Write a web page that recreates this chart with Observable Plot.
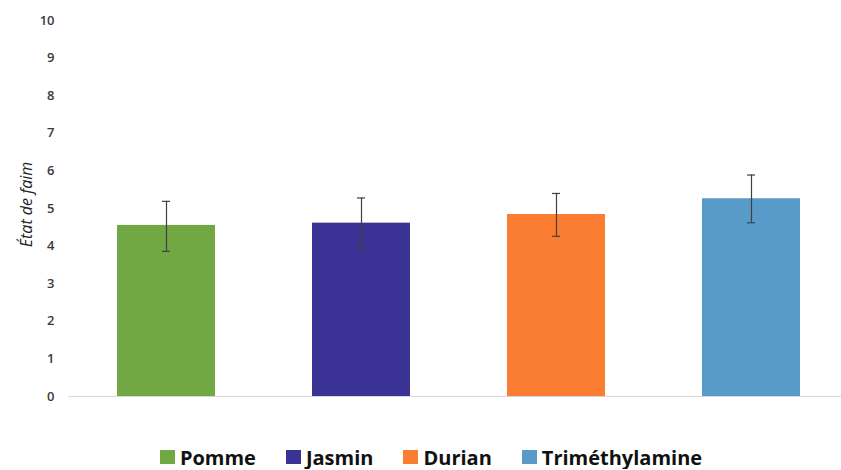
<!DOCTYPE html>
<html>
<head>
<meta charset="utf-8">
<script src="https://cdn.jsdelivr.net/npm/d3@7"></script>
<script src="https://cdn.jsdelivr.net/npm/@observablehq/plot@0.6"></script>
<style>
  html, body { margin: 0; padding: 0; background: #fff; }
  #chart { width: 841px; }
  .legend { display: flex; justify-content: center; align-items: center; padding-left: 21px; margin-top: 25px;
    font-family: "Open Sans", sans-serif; font-weight: 700; font-size: 20px; color: #111; height: 24px; }
  .legend .item { display: flex; align-items: center; margin-right: 30px; }
  .legend .item:last-child { margin-right: 0; }
  .legend .sw { width: 15px; height: 14px; margin-right: 5px; display: inline-block; }
</style>
</head>
<body>
<div id="chart"></div>
<script>
const categories = ["Pomme", "Jasmin", "Durian", "Triméthylamine"];
const means = [4.55, 4.61, 4.84, 5.26];
const errLow = [3.86, 3.94, 4.26, 4.62];
const errHigh = [5.19, 5.28, 5.40, 5.89];
const colors = ["#72A844", "#3B3295", "#FB7D31", "#589AC8"];
const yTicks = [0, 1, 2, 3, 4, 5, 6, 7, 8, 9, 10];
const yLabel = "État de faim";

const data = categories.map((c, i) => ({cat: c, mean: means[i], lo: errLow[i], hi: errHigh[i]}));

const plot = Plot.plot({
  width: 841,
  height: 420,
  marginLeft: 68,
  marginRight: -7,
  marginTop: 20,
  marginBottom: 24,
  style: {fontFamily: "Open Sans, sans-serif", fontSize: "13px", color: "#3a3a3a", background: "#fff"},
  x: {domain: categories, paddingInner: 0.5, paddingOuter: 0.25, axis: null},
  y: {domain: [0, 10], ticks: yTicks},
  color: {domain: categories, range: colors},
  marks: [
    Plot.axisY({ticks: yTicks, tickSize: 0, tickPadding: 14, label: null, fontWeight: 600, tickFormat: d => String(d)}),
    Plot.barY(data, {x: "cat", y: "mean", fill: "cat"}),
    Plot.ruleY([0], {stroke: "#d9d9d9", strokeWidth: 1.2}),
    Plot.ruleX(data, {x: "cat", y1: "lo", y2: "hi", stroke: "#404040", strokeWidth: 1.2}),
    Plot.tickY(data, {x: "cat", y: "hi", stroke: "#404040", strokeWidth: 1.2, insetLeft: 45, insetRight: 45}),
    Plot.tickY(data, {x: "cat", y: "lo", stroke: "#404040", strokeWidth: 1.2, insetLeft: 45, insetRight: 45}),
    Plot.text([yLabel], {frameAnchor: "left", textAnchor: "middle", rotate: -90, dx: -42, dy: -4, fontStyle: "italic", fontSize: 16, fill: "#222", text: d => d})
  ]
});
document.getElementById("chart").appendChild(plot);

const legend = document.createElement("div");
legend.className = "legend";
categories.forEach((c, i) => {
  const it = document.createElement("div");
  it.className = "item";
  const sw = document.createElement("span");
  sw.className = "sw";
  sw.style.background = colors[i];
  it.appendChild(sw);
  it.appendChild(document.createTextNode(c));
  legend.appendChild(it);
});
document.getElementById("chart").appendChild(legend);
</script>
</body>
</html>
